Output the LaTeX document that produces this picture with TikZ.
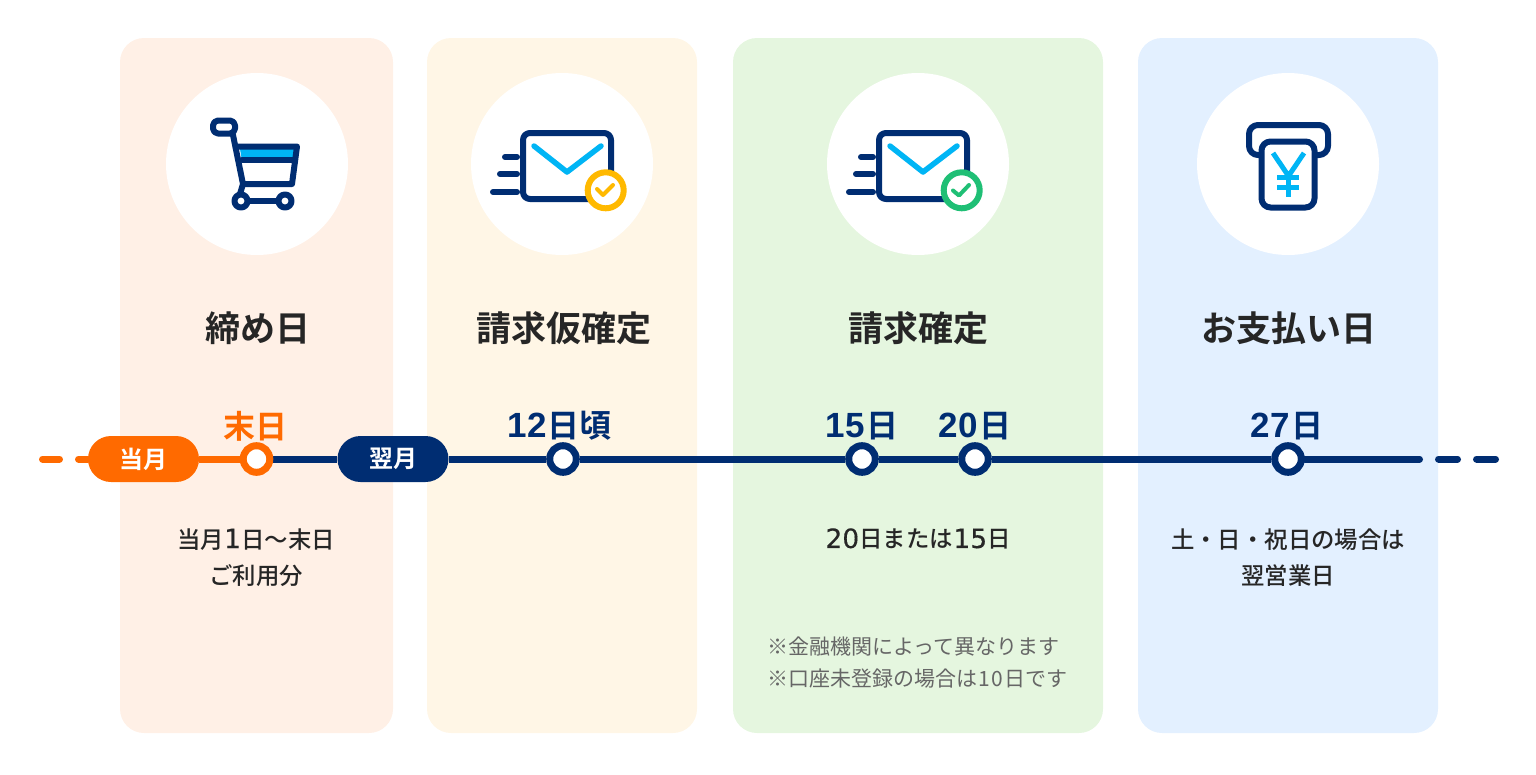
\documentclass[tikz,border=0pt]{standalone}
\usepackage{fontspec}
\newfontfamily\jpb{Noto Sans CJK JP Bold}
\newfontfamily\jpm{Noto Sans CJK JP Medium}
\newfontfamily\jpr{Noto Sans CJK JP}
\newfontfamily\numb{Liberation Sans}[BoldFont={Liberation Sans Bold}]
\newfontfamily\numc{DejaVu Sans}[FakeBold=0.4]
\definecolor{navy}{HTML}{002D72}
\definecolor{orangeC}{HTML}{FF6A00}
\definecolor{cyanC}{HTML}{00B5F5}
\definecolor{ink}{HTML}{262626}
\definecolor{noteC}{HTML}{666666}
\definecolor{p1}{HTML}{FFF0E6}
\definecolor{p2}{HTML}{FFF6E6}
\definecolor{p3}{HTML}{E5F6DF}
\definecolor{p4}{HTML}{E3F0FF}
\definecolor{yellowC}{HTML}{FFB900}
\definecolor{greenC}{HTML}{1FBF75}
\newcommand\dgc[1]{{\numc\fontsize{26.5}{36.5}\selectfont\kern.3pt#1\kern.3pt}}
\newcommand\dgd[2]{{\numb\bfseries\fontsize{35}{40}\selectfont #1\kern1pt #2\kern1pt}}
\newcommand\dgn[1]{\kern1pt#1\kern1pt}
\tikzset{
  panel/.style={rounded corners=24pt,draw=none},
  disc/.style={circle,fill=white,inner sep=0pt,minimum size=182pt},
  titletxt/.style={text=ink,font=\jpb\fontsize{35}{40}\selectfont,inner sep=0pt},
  datetxt/.style={text=navy,font=\jpb\fontsize{32}{40}\selectfont,inner sep=0pt},
  captxt/.style={text=ink,font=\jpm\fontsize{23.4}{36.5}\selectfont,inner sep=0pt,align=center},
  notetxt/.style={text=noteC,font=\jpr\fontsize{21}{32}\selectfont,inner sep=0pt,align=left},
  pill/.style={rounded corners=23pt,minimum width=111pt,minimum height=46pt,inner sep=0pt,text=white,font=\jpb\fontsize{24}{28}\selectfont},
  tl/.style={line width=7pt,line cap=round},
  seg/.style={line width=7pt},
  dot/.style={circle,fill=white,inner sep=0pt,minimum size=26.6pt,line width=7pt},
  ic/.style={draw=navy,line width=6pt,line cap=round,line join=round},
  ics/.style={draw=navy,line width=6pt,line cap=round},
  icc/.style={draw=cyanC,line width=5.5pt,line cap=round,line join=round},
  yen/.style={draw=cyanC,line width=5pt},
  chk/.style={line width=4pt,line cap=round,line join=round},
}
\pgfdeclarelayer{panels}
\pgfdeclarelayer{lines}
\pgfsetlayers{panels,lines,main}
\begin{document}
\begin{tikzpicture}[x=1pt,y=-1pt]
\useasboundingbox (0,0) rectangle (1536,774);
\begin{pgfonlayer}{panels}
\fill[p1,panel] (120,38) rectangle (393,733);
\fill[p2,panel] (427,38) rectangle (697,733);
\fill[p3,panel] (733,38) rectangle (1103,733);
\fill[p4,panel] (1138,38) rectangle (1438,733);
\end{pgfonlayer}
\node[disc] (c1) at (257,164) {};
\node[disc] (c2) at (562,164) {};
\node[disc] (c3) at (918,164) {};
\node[disc] (c4) at (1288,164) {};
% cart
\fill[cyanC] (240,149) -- (295,149) -- (293,158) -- (241.5,158) -- cycle;
\draw[ic,rounded corners=5pt] (213,120.5) rectangle (235,133.5);
\draw[ic] (233,135) -- (243,184) -- (240,194);
\draw[ic] (238.5,146.5) -- (297,146.5) -- (292,184) -- (243,184);
\draw[ic] (242,160) -- (295,160);
\draw[ic] (248,201) -- (278,201);
\draw[ic,fill=white] (241,201) circle (6.5);
\draw[ic,fill=white] (285,201) circle (6.5);
% mail 1
\draw[ic,rounded corners=7pt] (523,133) rectangle (611,199);
\draw[icc] (534,146) -- (567,172) -- (601,146);
\draw[ics] (505,157) -- (517,157);
\draw[ics] (500,174) -- (517,174);
\draw[ics] (493,192) -- (517,192);
\draw[draw=yellowC,fill=white,line width=6pt] (605.7,190.3) circle (18);
\draw[chk,yellowC] (597,189) -- (603,195) -- (613,185);
% mail 2
\begin{scope}[xshift=356pt]
\draw[ic,rounded corners=7pt] (523,133) rectangle (611,199);
\draw[icc] (534,146) -- (567,172) -- (601,146);
\draw[ics] (505,157) -- (517,157);
\draw[ics] (500,174) -- (517,174);
\draw[ics] (493,192) -- (517,192);
\draw[draw=greenC,fill=white,line width=6pt] (605.7,190.3) circle (18);
\draw[chk,greenC] (597,190.5) -- (603,195.5) -- (613,185);
\end{scope}
% yen
\draw[ic,rounded corners=9pt] (1260,155) -- (1249,155) -- (1249,125) -- (1328,125) -- (1328,155) -- (1316,155);
\draw[ic,fill=white,rounded corners=9pt] (1261.5,141.5) rectangle (1314.5,207.5);
\draw[yen] (1273,153) -- (1288.5,176) -- (1304,153);
\draw[yen] (1288.5,176) -- (1288.5,197);
\draw[yen] (1277,177) -- (1299,177);
\draw[yen] (1277,187) -- (1299,187);
% titles
\node[titletxt] (t1) at (258,328) {締め日};
\node[titletxt] (t2) at (564,328) {請求仮確定};
\node[titletxt] (t3) at (918.5,328) {請求確定};
\node[titletxt] (t4) at (1289,328) {お支払い日};
% timeline
\coordinate (os) at (42.5,459);\coordinate (oe) at (59.5,459);
\coordinate (os2) at (78.5,459);\coordinate (ne1) at (1419.5,459);
\coordinate (ds1) at (1438.5,459);\coordinate (de1) at (1457.5,459);
\coordinate (ds2) at (1476.5,459);\coordinate (de2) at (1495.5,459);
\node[pill,fill=orangeC] (pa) at (143.5,459) {当月};
\node[pill,fill=navy] (pb) at (393,459) {翌月};
\node[dot,draw=orangeC] (d0) at (256.5,459) {};
\node[dot,draw=navy] (d1) at (563,459) {};
\node[dot,draw=navy] (d2) at (862,459) {};
\node[dot,draw=navy] (d3) at (975,459) {};
\node[dot,draw=navy] (d4) at (1288,459) {};
\begin{pgfonlayer}{lines}
\draw[tl,orangeC] (os) -- (oe);
\draw[tl,orangeC] (os2) -- (pa);
\draw[seg,orangeC] (pa) -- (d0);
\draw[seg,navy] (d0) -- (pb);
\draw[seg,navy] (pb) -- (d1);
\draw[seg,navy] (d1) -- (d2);
\draw[seg,navy] (d2) -- (d3);
\draw[seg,navy] (d3) -- (d4);
\draw[tl,navy] (d4) -- (ne1);
\draw[tl,navy] (ds1) -- (de1);
\draw[tl,navy] (ds2) -- (de2);
\end{pgfonlayer}
% dates
\node[datetxt,text=orangeC] (e0) at (255.5,426) {末日};
\node[datetxt] (e1) at (559.5,426) {\dgd{1}{2}日頃};
\node[datetxt] (e2) at (862,426) {\dgd{1}{5}日};
\node[datetxt] (e3) at (975,426) {\dgd{2}{0}日};
\node[datetxt] (e4) at (1287,426) {\dgd{2}{7}日};
% captions
\node[captxt] (k1) at (256,557.5) {当月\dgc{1}日〜末日\\ご利用分};
\node[captxt] (k3) at (918,539) {\dgc{20}日または\dgc{15}日};
\node[captxt] (k4) at (1288,557.5) {土・日・祝日の場合は\\翌営業日};
\node[notetxt,anchor=north west] (n1) at (767,637) {※金融機関によって異なります\\※口座未登録の場合は\dgn{1}\dgn{0}日です};
\end{tikzpicture}
\end{document}
